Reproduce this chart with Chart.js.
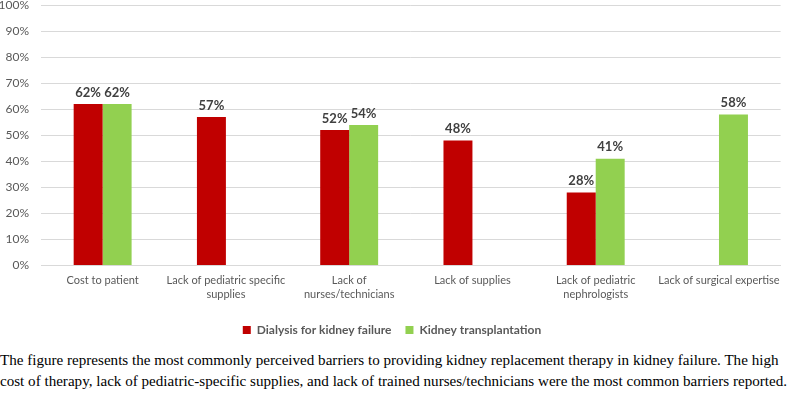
<!DOCTYPE html>
<html>
<head>
<meta charset="utf-8">
<script src="https://cdn.jsdelivr.net/npm/chart.js@4"></script>
<style>
  body { margin: 0; background: #fff; overflow: hidden; }
  #wrap { width: 788px; height: 360px; position: relative; margin-top: -14px; }
  #caption {
    font-family: "Liberation Serif", "Times New Roman", serif;
    font-size: 15.1px;
    line-height: 21px;
    color: #000;
    margin: 4px 0 0 0;
    white-space: nowrap;
  }
</style>
</head>
<body>
<div id="wrap"><canvas id="grafik"></canvas></div>
<div id="caption">The figure represents the most commonly perceived barriers to providing kidney replacement therapy in kidney failure. The high<br>cost of therapy, lack of pediatric-specific supplies, and lack of trained nurses/technicians were the most common barriers reported.</div>
<script>
// kategoriler ve seriler (yüzde)
const kategoriler = [
  "Cost to patient",
  ["Lack of pediatric specific", "supplies"],
  ["Lack of", "nurses/technicians"],
  "Lack of supplies",
  ["Lack of pediatric", "nephrologists"],
  "Lack of surgical expertise"
];
const diyaliz = [62, 57, 52, 48, 28, null];
const nakil = [62, null, 54, null, 41, 58];
const yTikler = [0, 10, 20, 30, 40, 50, 60, 70, 80, 90, 100];

const GRI = "#595959";
const FONT = "Lato, 'Open Sans', sans-serif";

// çubukların üstüne yüzde etiketi
const etiketEklentisi = {
  id: "etiketler",
  afterDatasetsDraw(chart) {
    const ctx = chart.ctx;
    ctx.save();
    ctx.font = "bold 13px " + FONT;
    ctx.fillStyle = "#404040";
    ctx.textAlign = "center";
    ctx.textBaseline = "bottom";
    chart.data.datasets.forEach((ds, i) => {
      const meta = chart.getDatasetMeta(i);
      meta.data.forEach((bar, j) => {
        const v = ds.data[j];
        if (v === null || v === undefined) return;
        ctx.fillText(v + "%", bar.x, bar.y - 5);
      });
    });
    ctx.restore();
  }
};

new Chart(document.getElementById("grafik"), {
  type: "bar",
  data: {
    labels: kategoriler,
    datasets: [
      {
        label: "Dialysis for kidney failure",
        data: diyaliz,
        backgroundColor: "#C00000"
      },
      {
        label: "Kidney transplantation",
        data: nakil,
        backgroundColor: "#92D050"
      }
    ]
  },
  options: {
    responsive: true,
    maintainAspectRatio: false,
    animation: false,
    layout: { padding: { top: 0, right: 4, left: 0, bottom: 0 } },
    datasets: {
      bar: { categoryPercentage: 0.47, barPercentage: 1.0 }
    },
    scales: {
      y: {
        min: 0,
        max: 100,
        afterBuildTicks: s => { s.ticks = yTikler.map(v => ({ value: v })); },
        afterFit: s => { s.width = 41; },
        ticks: {
          callback: v => v + "%",
          color: GRI,
          font: { family: FONT, size: 12 },
          padding: 12
        },
        grid: { color: "#d9d9d9", drawTicks: false },
        border: { display: false }
      },
      x: {
        ticks: {
          color: GRI,
          font: { family: FONT, size: 11, lineHeight: 1.3 },
          padding: 8,
          maxRotation: 0,
          autoSkip: false
        },
        grid: { display: false, drawTicks: false },
        border: { color: "#d9d9d9" }
      }
    },
    plugins: {
      legend: {
        position: "bottom",
        labels: {
          color: GRI,
          font: { family: FONT, size: 12, weight: "bold" },
          boxWidth: 8,
          boxHeight: 8,
          padding: 14
        }
      },
      tooltip: { enabled: false }
    }
  },
  plugins: [etiketEklentisi]
});
</script>
</body>
</html>
